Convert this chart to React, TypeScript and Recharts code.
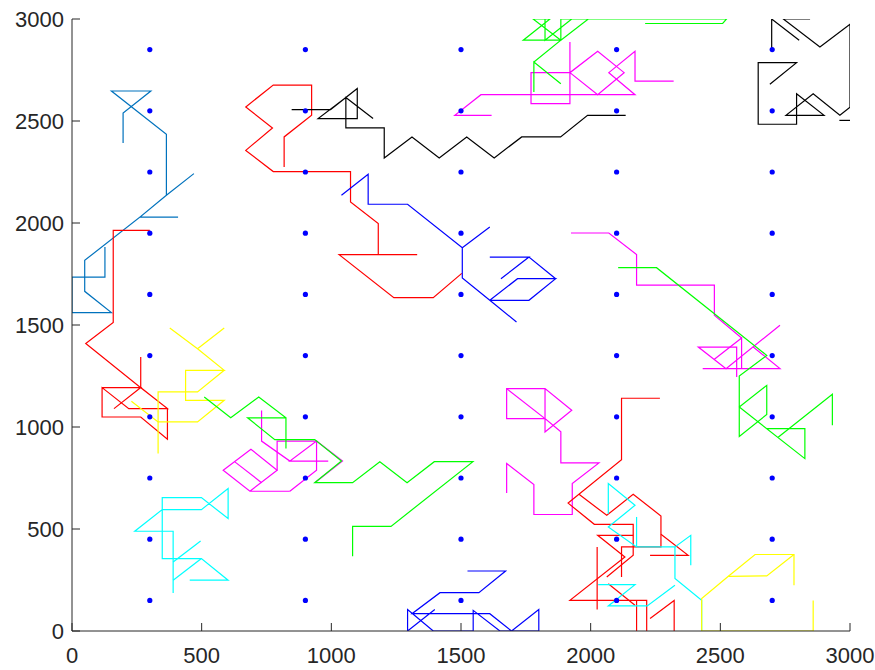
import React from "react";
import { ComposedChart, Line, Scatter, XAxis, YAxis } from "recharts";

type Pt = [number, number];

const AXIS_TICKS = [0, 500, 1000, 1500, 2000, 2500, 3000];
const DOT_X = [300, 900, 1500, 2100, 2700];
const DOT_Y = [150, 450, 750, 1050, 1350, 1650, 1950, 2250, 2550, 2850];

// walks (x, y)
const STEEL_WALK: Pt[] = [[197,2392],[197,2539],[304,2647],[152,2647],[364,2435],[364,2136],[470,2242],[364,2136],[262,2029],[409,2029],[262,2029],[49,1817],[49,1665],[152,1561],[0,1561],[0,1735],[127,1735],[127,1882]];
const RED_A: Pt[] = [[818,2275],[818,2422],[924,2528],[924,2676],[776,2676],[670,2569],[773,2466],[670,2356],[776,2252],[1074,2252],[1074,2103],[1181,1997],[1181,1845],[1331,1845],[1030,1845],[1241,1634],[1393,1634],[1503,1753]];
const RED_B: Pt[] = [[300,1964],[159,1964],[159,1512],[53,1409],[265,1193],[265,1343],[265,1193],[368,1090],[368,940],[265,1049],[116,1049],[116,1193],[219,1090],[368,1090],[265,1193],[162,1090],[265,1193],[116,1193]];
const BLACK_A: Pt[] = [[847,2556],[997,2556],[1100,2659],[1100,2512],[949,2512],[1056,2615],[1161,2512],[1056,2615],[1056,2466],[1204,2466],[1204,2319],[1311,2422],[1416,2319],[1522,2422],[1628,2319],[1734,2422],[1884,2422],[1988,2528],[2135,2528]];
const MAGENTA_A: Pt[] = [[2320,2695],[2171,2695],[2171,2842],[2070,2737],[2171,2629],[1577,2629],[1476,2528],[1618,2528]];
const MAGENTA_B: Pt[] = [[1920,2887],[1920,2737],[1770,2737],[1770,2585],[1920,2585],[1920,2737],[2027,2842],[2129,2737],[2027,2629],[1920,2737]];
const GREEN_A: Pt[] = [[1885,2683],[1781,2789],[1781,2642],[1781,2789],[1885,2896],[1740,2896],[1843,3000],[1778,3000],[1885,2896],[1991,3000],[1885,3000],[1885,2896],[1824,2896],[1824,3000],[1824,2896],[1927,3000],[2524,3000],[2509,2978],[2210,2978]];
const BLACK_B: Pt[] = [[2804,2896],[2698,3000],[2698,2855]];
const BLACK_C: Pt[] = [[2691,2680],[2794,2786],[2646,2786],[2646,2484],[2794,2484],[2794,2634],[2900,2528],[2753,2528],[2858,2634],[2961,2528],[3000,2567],[3000,2974],[2884,2863],[2743,3000],[2846,3000]];
const BLACK_D: Pt[] = [[2959,2503],[3000,2503]];
const BLUE_A: Pt[] = [[1039,2136],[1142,2239],[1142,2092],[1294,2092],[1505,1879],[1611,1980],[1505,1879],[1505,1730],[1611,1621],[1714,1515],[1611,1621],[1718,1727],[1865,1727],[1762,1621],[1611,1621]];
const BLUE_B: Pt[] = [[1654,1727],[1762,1833],[1611,1833],[1762,1833],[1865,1727]];
const MAGENTA_C: Pt[] = [[1924,1951],[2070,1951],[2177,1845],[2177,1695],[2477,1695],[2477,1548],[2582,1436],[2477,1332],[2582,1436],[2582,1286],[2432,1286],[2730,1286],[2627,1392]];
const MAGENTA_D: Pt[] = [[2563,1245],[2563,1392],[2415,1392],[2522,1286],[2730,1499]];
const GREEN_B: Pt[] = [[2106,1781],[2254,1781],[2679,1351],[2573,1250],[2573,954],[2679,1061],[2679,1204],[2573,1098],[2826,845],[2826,992],[2679,992]];
const GREEN_C: Pt[] = [[2723,950],[2932,1160],[2932,1008]];
const YELLOW_A: Pt[] = [[377,1485],[484,1384],[587,1485],[484,1384],[587,1278],[438,1278],[438,1131],[587,1131],[484,1025],[332,1025],[229,1126]];
const YELLOW_B: Pt[] = [[332,870],[332,1172],[484,1172],[587,1278]];
const GREEN_D: Pt[] = [[510,1147],[612,1045],[720,1147],[825,1045],[825,894],[825,1045],[677,1045],[782,938],[936,938],[1039,833],[936,727],[1082,727],[1187,830],[1292,727],[1397,830],[1546,830],[1230,513],[1082,513],[1082,366]];
const MAGENTA_E: Pt[] = [[731,1081],[731,931],[840,833],[988,833],[840,833],[943,931],[1043,833],[936,727]];
const MAGENTA_F: Pt[] = [[840,685],[686,685],[583,788],[690,891],[791,788],[686,685]];
const MAGENTA_G: Pt[] = [[628,829],[731,727]];
const MAGENTA_H: Pt[] = [[791,788],[791,931],[943,931],[943,788],[840,685]];
const CYAN_A: Pt[] = [[454,249],[602,249],[499,355],[348,355],[348,654],[499,654],[602,551],[602,698],[499,595],[348,595],[242,489],[390,489],[390,186]];
const CYAN_B: Pt[] = [[390,249],[499,355]];
const CYAN_C: Pt[] = [[390,338],[496,441]];
const BLUE_C: Pt[] = [[1525,294],[1672,294],[1569,188],[1419,188],[1311,85],[1611,85],[1695,0],[1800,105],[1800,0],[1650,0],[1547,101],[1547,0],[1393,0],[1294,105],[1294,0],[1399,105]];
const MAGENTA_I: Pt[] = [[1676,676],[1676,821],[1781,718],[1781,571],[1929,571],[1929,723],[2032,824],[1885,824],[1885,976],[1824,1041],[1676,1041],[1676,1188],[1824,1188],[1927,1082],[1824,976],[1824,1188]];
const MAGENTA_J: Pt[] = [[1676,1188],[1824,1041]];
const RED_C: Pt[] = [[2267,1141],[2119,1141],[2119,840],[1913,627],[2014,523],[2164,523],[2164,371],[2062,265]];
const RED_D: Pt[] = [[1955,670],[2062,567],[2164,670],[2271,564],[2271,412],[2119,412],[2119,265]];
const RED_E: Pt[] = [[2164,469],[2027,469],[2132,363],[1920,150],[2216,150],[2216,0]];
const RED_F: Pt[] = [[2025,412],[2025,106]];
const RED_G: Pt[] = [[2068,232],[2171,126]];
const RED_H: Pt[] = [[2229,371],[2376,371],[2271,474]];
const RED_I: Pt[] = [[2177,150],[2177,0]];
const RED_J: Pt[] = [[2229,61],[2322,150],[2322,0]];
const CYAN_D: Pt[] = [[2068,575],[2068,723],[2171,616],[2068,510],[2177,412],[2325,412],[2386,469],[2386,322]];
const CYAN_E: Pt[] = [[2177,559],[2177,412]];
const CYAN_F: Pt[] = [[2325,412],[2325,257],[2428,150],[2428,0]];
const CYAN_G: Pt[] = [[2029,227],[2171,227],[2068,123],[2218,123],[2325,224]];
const YELLOW_C: Pt[] = [[2858,150],[2858,0],[2428,0],[2428,159],[2531,268],[2634,375],[2784,375],[2784,224]];
const YELLOW_D: Pt[] = [[2531,268],[2679,270],[2784,375]];

const C = {
  steel: "#0072bd",
  r: "#ff0000",
  k: "#000000",
  m: "#ff00ff",
  g: "#00ff00",
  b: "#0000ff",
  y: "#ffff00",
  c: "#00ffff",
};

const SERIES: { pts: Pt[]; color: string }[] = [
  { pts: STEEL_WALK, color: C.steel },
  { pts: RED_A, color: C.r },
  { pts: RED_B, color: C.r },
  { pts: BLACK_A, color: C.k },
  { pts: MAGENTA_A, color: C.m },
  { pts: MAGENTA_B, color: C.m },
  { pts: GREEN_A, color: C.g },
  { pts: BLACK_B, color: C.k },
  { pts: BLACK_C, color: C.k },
  { pts: BLACK_D, color: C.k },
  { pts: BLUE_A, color: C.b },
  { pts: BLUE_B, color: C.b },
  { pts: MAGENTA_C, color: C.m },
  { pts: MAGENTA_D, color: C.m },
  { pts: GREEN_B, color: C.g },
  { pts: GREEN_C, color: C.g },
  { pts: YELLOW_A, color: C.y },
  { pts: YELLOW_B, color: C.y },
  { pts: MAGENTA_E, color: C.m },
  { pts: MAGENTA_F, color: C.m },
  { pts: MAGENTA_G, color: C.m },
  { pts: MAGENTA_H, color: C.m },
  { pts: GREEN_D, color: C.g },
  { pts: CYAN_A, color: C.c },
  { pts: CYAN_B, color: C.c },
  { pts: CYAN_C, color: C.c },
  { pts: BLUE_C, color: C.b },
  { pts: MAGENTA_I, color: C.m },
  { pts: MAGENTA_J, color: C.m },
  { pts: RED_C, color: C.r },
  { pts: RED_D, color: C.r },
  { pts: RED_E, color: C.r },
  { pts: RED_F, color: C.r },
  { pts: RED_G, color: C.r },
  { pts: RED_H, color: C.r },
  { pts: RED_I, color: C.r },
  { pts: RED_J, color: C.r },
  { pts: CYAN_D, color: C.c },
  { pts: CYAN_E, color: C.c },
  { pts: CYAN_F, color: C.c },
  { pts: CYAN_G, color: C.c },
  { pts: YELLOW_C, color: C.y },
  { pts: YELLOW_D, color: C.y },
];

const AX = "#262626";
const FONT = "'Liberation Sans', Arial, Helvetica, sans-serif";
const tickStyle = { fill: AX, fontSize: 22, fontFamily: FONT };

const dots = DOT_X.flatMap((x) => DOT_Y.map((y) => ({ x, y })));
const toRows = (pts: Pt[]) => pts.map(([x, y]) => ({ x, y }));

export default function App() {
  return (
    <div style={{ position: "absolute", left: 0, top: 0, background: "#fff" }}>
      <ComposedChart
        width={875}
        height={670}
        margin={{ top: 19, right: 25, bottom: 0, left: 0 }}
      >
        <XAxis
          dataKey="x"
          type="number"
          domain={[0, 3000]}
          ticks={AXIS_TICKS}
          interval={0}
          height={39}
          tickSize={-8}
          tickMargin={24}
          axisLine={{ stroke: AX }}
          tickLine={{ stroke: AX }}
          tick={tickStyle}
          allowDataOverflow
        />
        <XAxis
          xAxisId="top"
          orientation="top"
          type="number"
          domain={[0, 3000]}
          ticks={AXIS_TICKS}
          interval={0}
          height={0}
          tickSize={-8}
          axisLine={{ stroke: AX }}
          tickLine={{ stroke: AX }}
          tick={false}
        />
        <YAxis
          dataKey="y"
          type="number"
          domain={[0, 3000]}
          ticks={AXIS_TICKS}
          interval={0}
          width={72}
          tickSize={-8}
          tickMargin={16}
          axisLine={{ stroke: AX }}
          tickLine={{ stroke: AX }}
          tick={tickStyle}
          allowDataOverflow
        />
        <YAxis
          yAxisId="right"
          orientation="right"
          type="number"
          domain={[0, 3000]}
          ticks={AXIS_TICKS}
          interval={0}
          width={0}
          tickSize={-8}
          axisLine={{ stroke: AX }}
          tickLine={{ stroke: AX }}
          tick={false}
        />
        {SERIES.map((s, i) => (
          <Line
            key={i}
            data={toRows(s.pts)}
            dataKey="y"
            type="linear"
            stroke={s.color}
            strokeWidth={1.2}
            dot={false}
            activeDot={false}
            isAnimationActive={false}
          />
        ))}
        <Scatter
          data={dots}
          dataKey="y"
          isAnimationActive={false}
          shape={(p: any) => <circle cx={p.cx} cy={p.cy} r={2.6} fill="#0000ff" />}
        />
      </ComposedChart>
    </div>
  );
}
